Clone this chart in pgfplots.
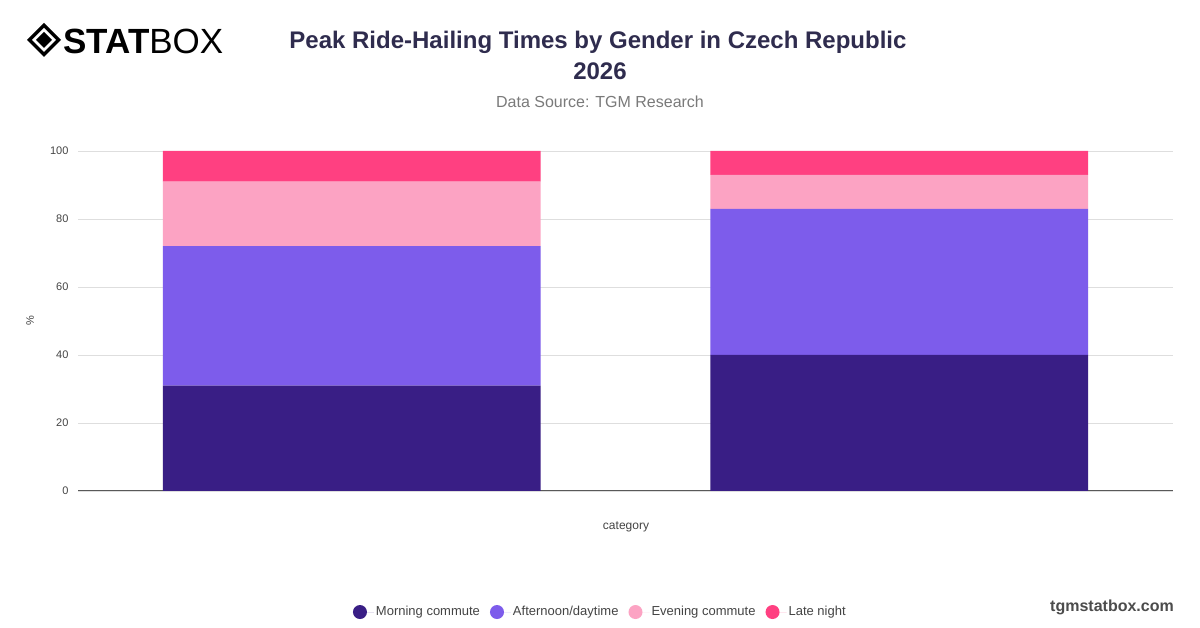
\documentclass[border=0pt]{standalone}
\usepackage{fontspec}
\setmainfont{Liberation Sans}
\usepackage{pgfplots}
\pgfplotsset{compat=1.18}
\definecolor{cMorning}{HTML}{391E85}
\definecolor{cAfternoon}{HTML}{7D5CEB}
\definecolor{cEvening}{HTML}{FCA3C3}
\definecolor{cLate}{HTML}{FF4081}
\definecolor{titlecol}{HTML}{2F2C4E}
\definecolor{subcol}{HTML}{7A7A7A}
\definecolor{ticktext}{HTML}{444444}
\begin{document}
\begin{tikzpicture}[x=1pt,y=1pt]
\fill[white] (0,0) rectangle (1200,628);
% logo
\begin{scope}[shift={(44,588)}]
\fill[black] (0,17) -- (17,0) -- (0,-17) -- (-17,0) -- cycle;
\fill[white] (0,12) -- (12,0) -- (0,-12) -- (-12,0) -- cycle;
\fill[black] (0,8) -- (8,0) -- (0,-8) -- (-8,0) -- cycle;
\end{scope}
\node[anchor=west, inner sep=0pt, font=\bfseries\fontsize{35}{37}\selectfont] at (63,587) {STAT\mdseries BOX};
% titles
\node[font=\bfseries\fontsize{24}{27}\selectfont, text=titlecol] at (598,586) {Peak Ride-Hailing Times by Gender in Czech Republic};
\node[font=\bfseries\fontsize{24}{27}\selectfont, text=titlecol] at (600,557) {2026};
\node[font=\fontsize{16}{18}\selectfont, text=subcol] at (600,526) {Data Source: TGM Research};
\begin{axis}[
  at={(78pt,137pt)}, anchor=south west,
  scale only axis, width=1095pt, height=340pt,
  xmin=-0.5, xmax=1.5, ymin=0, ymax=100,
  ybar stacked, bar width=0.69,
  xtick=\empty,
  ytick={0,20,40,60,80,100},
  ymajorgrids, grid style={color=black!13, line width=0.8pt},
  axis x line*=bottom, axis y line*=left,
  x axis line style={color=black!65, line width=1pt, -},
  y axis line style={draw=none},
  major tick length=0pt,
  tick label style={font=\fontsize{11}{13}\selectfont, text=ticktext},
  yticklabel style={xshift=-6pt},
  /pgf/number format/assume math mode=true,
  legend columns=4,
  legend style={at={(0.477,-0.356)}, anchor=center, draw=none, fill=none,
    font=\fontsize{13}{15}\selectfont, text=ticktext,
    /tikz/every even column/.append style={column sep=8pt}},
  legend image code/.code={\fill[#1, draw=none] (0pt,0pt) circle (7pt); \path (-7pt,0pt) -- (14pt,0pt);},
]
\addplot[fill=cMorning, draw=none] coordinates {(0,31) (1,40)};
\addplot[fill=cAfternoon, draw=none] coordinates {(0,41) (1,43)};
\addplot[fill=cEvening, draw=none] coordinates {(0,19) (1,10)};
\addplot[fill=cLate, draw=none] coordinates {(0,9) (1,7)};
\legend{Morning commute, Afternoon/daytime, Evening commute, Late night}
\end{axis}
\node[font=\fontsize{12}{14}\selectfont, text=ticktext] at (626,101) {category};
\node[font=\fontsize{11}{13}\selectfont, text=ticktext, rotate=90] at (30,307) {\%};
\node[font=\bfseries\fontsize{16}{18}\selectfont, text=black!70] at (1112,21) {tgmstatbox.com};
\end{tikzpicture}
\end{document}
